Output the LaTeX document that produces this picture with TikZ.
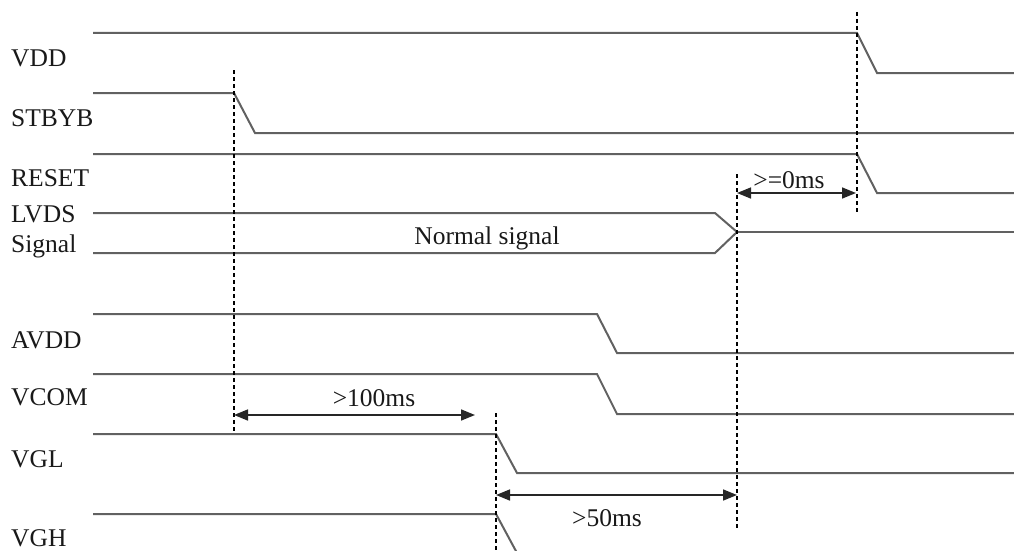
\documentclass[tikz,border=0pt]{standalone}
\usepackage{fontspec}
\setmainfont{Liberation Serif}
\usetikzlibrary{arrows.meta}
\begin{document}
\begin{tikzpicture}[x=1pt,y=-1pt,
  sig/.style={draw=black!62,line width=2pt},
  vmarker/.style={draw=black,line width=1.8pt,dash pattern=on 4pt off 3pt},
  dim/.style={draw=black!85,line width=1.6pt,{Triangle[length=14pt,width=11pt]}-{Triangle[length=14pt,width=11pt]}},
  lbl/.style={anchor=west,inner sep=0pt,font=\fontsize{25.5}{25.5}\selectfont,text=black!90},
  txt/.style={inner sep=0pt,font=\fontsize{25.5}{25.5}\selectfont,text=black!90}]
\useasboundingbox (0,0) rectangle (1014,551);
\clip (0,0) rectangle (1014,551);
% labels
\node[lbl] (lvdd) at (11,58) {VDD};
\node[lbl] (lstb) at (11,118) {STBYB};
\node[lbl] (lrst) at (11,178) {RESET};
\node[lbl] (llvds) at (11,214) {LVDS};
\node[lbl] (lsig) at (11,246) {Signal};
\node[lbl] (lavdd) at (11,340) {AVDD};
\node[lbl] (lvcom) at (11,397) {VCOM};
\node[lbl] (lvgl) at (11,459) {VGL};
\node[lbl] (lvgh) at (11,538) {VGH};
% signals
\draw[sig] (93,33) -- (857,33) -- (877,73) -- (1014,73);
\draw[sig] (93,93) -- (234,93) -- (255,133) -- (1014,133);
\draw[sig] (93,154) -- (857,154) -- (877,193) -- (1014,193);
\draw[sig] (93,213) -- (715,213) -- (737,232) -- (715,253) -- (93,253);
\draw[sig] (737,232) -- (1014,232);
\draw[sig] (93,314) -- (597,314) -- (617,353) -- (1014,353);
\draw[sig] (93,374) -- (597,374) -- (617,414) -- (1014,414);
\draw[sig] (93,434) -- (496,434) -- (517,473) -- (1014,473);
\draw[sig] (93,514) -- (496,514) -- (517,553);
\node[txt] (normal) at (487,238) {Normal signal};
% markers
\coordinate (m1t) at (234,70);  \coordinate (m1b) at (234,432);
\coordinate (m2t) at (857,12);  \coordinate (m2b) at (857,214);
\coordinate (m3t) at (737,174); \coordinate (m3b) at (737,528);
\coordinate (m4t) at (496,413); \coordinate (m4b) at (496,551);
\draw[vmarker] (m1t) -- (m1b);
\draw[vmarker] (m2t) -- (m2b);
\draw[vmarker] (m3t) -- (m3b);
\draw[vmarker] (m4t) -- (m4b);
% dimensions
\coordinate (a0l) at (737,193); \coordinate (a0r) at (856,193);
\coordinate (a1l) at (234,415); \coordinate (a1r) at (475,415);
\coordinate (a2l) at (496,495); \coordinate (a2r) at (737,495);
\draw[dim] (a0l) -- (a0r);
\draw[dim] (a1l) -- (a1r);
\draw[dim] (a2l) -- (a2r);
\node[txt] (t0) at (789,180) {>=0ms};
\node[txt] (t1) at (374,398) {>100ms};
\node[txt] (t2) at (607,518) {>50ms};
\end{tikzpicture}
\end{document}
